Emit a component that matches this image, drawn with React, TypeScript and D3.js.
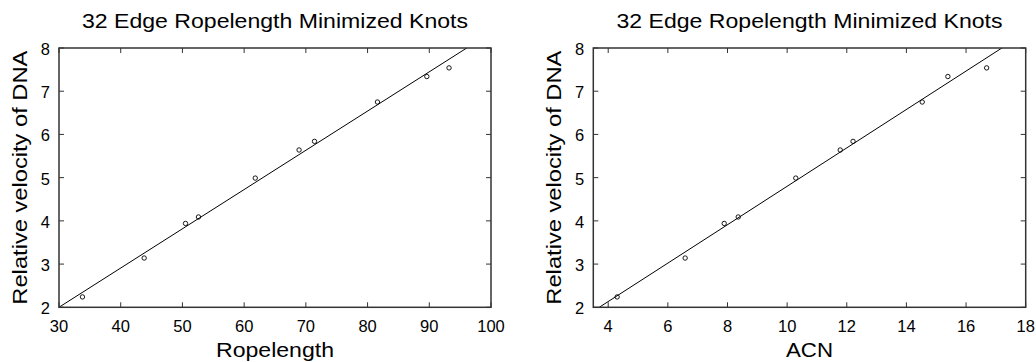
import React from "react";
import * as d3 from "d3";

// values
const ropelength = [33.8, 43.8, 50.5, 52.6, 61.8, 68.9, 71.4, 81.6, 89.6, 93.2];
const acn = [4.3, 6.58, 7.89, 8.36, 10.29, 11.78, 12.21, 14.53, 15.39, 16.69];
const velocity = [2.24, 3.14, 3.94, 4.09, 4.99, 5.64, 5.84, 6.75, 7.34, 7.54];

const ropeTicks = [30, 40, 50, 60, 70, 80, 90, 100];
const acnTicks = [4, 6, 8, 10, 12, 14, 16, 18];
const velocityTicks = [2, 3, 4, 5, 6, 7, 8];

// fitted lines: [slope, intercept]
const ropeFit = [0.0908, -0.723];
const acnFit = [0.4444, 0.356];

const title = "32 Edge Ropelength Minimized Knots";
const yLabel = "Relative velocity of DNA";

const W = 1036,
  H = 362;
const top = 48,
  bottom = 307.3;
const font = "'Liberation Sans', Arial, Helvetica, sans-serif";

type PanelProps = {
  id: string;
  left: number;
  right: number;
  xs: number[];
  xDomain: [number, number];
  xTicks: number[];
  fit: number[];
  xLabel: string;
  xLabelLen: number;
};

const Panel = ({ id, left, right, xs, xDomain, xTicks, fit, xLabel, xLabelLen }: PanelProps) => {
  const x = d3.scaleLinear().domain(xDomain).range([left, right]);
  const y = d3.scaleLinear().domain([2, 8]).range([bottom, top]);

  const fitLine = d3
    .line<number>()
    .x((d) => x(d))
    .y((d) => y(fit[0] * d + fit[1]));

  const pts = xs.map((v, i) => ({ x: v, y: velocity[i] }));
  const cx = (left + right) / 2;
  const tick = 5;
  const frame = "#333";

  return (
    <g>
      <defs>
        <clipPath id={"clip-" + id}>
          <rect x={left} y={top} width={right - left} height={bottom - top} />
        </clipPath>
      </defs>

      <text x={cx} y={28} textAnchor="middle" fontSize={19.5} textLength={386}
        lengthAdjust="spacingAndGlyphs" fill="#000">{title}</text>

      {/* fit line */}
      <path d={fitLine(xDomain) || ""} fill="none" stroke="#000" strokeWidth={1}
        clipPath={`url(#clip-${id})`} />

      {/* points */}
      {pts.map((p, i) => (
        <circle key={i} cx={x(p.x)} cy={y(p.y)} r={2.2} fill="none" stroke="#000" strokeWidth={0.9} />
      ))}

      {/* frame */}
      <rect x={left} y={top} width={right - left} height={bottom - top} fill="none"
        stroke={frame} strokeWidth={1.5} />

      {/* x ticks */}
      {xTicks.map((t) => (
        <g key={"x" + t}>
          <line x1={x(t)} x2={x(t)} y1={bottom} y2={bottom - tick} stroke={frame} />
          <line x1={x(t)} x2={x(t)} y1={top} y2={top + tick} stroke={frame} />
          <text x={x(t)} y={332} textAnchor="middle" fontSize={16.5} fill="#000">{t}</text>
        </g>
      ))}

      {/* y ticks */}
      {velocityTicks.map((t) => (
        <g key={"y" + t}>
          <line x1={left} x2={left + tick} y1={y(t)} y2={y(t)} stroke={frame} />
          <line x1={right} x2={right - tick} y1={y(t)} y2={y(t)} stroke={frame} />
          <text x={left - 9} y={y(t) + 7} textAnchor="end" fontSize={16.5} fill="#000">{t}</text>
        </g>
      ))}

      <text x={cx} y={356.5} textAnchor="middle" fontSize={21} textLength={xLabelLen}
        lengthAdjust="spacingAndGlyphs" fill="#000">{xLabel}</text>

      <text transform={`translate(${left - 32},${(top + bottom) / 2}) rotate(-90)`}
        textAnchor="middle" fontSize={21} textLength={254} lengthAdjust="spacingAndGlyphs"
        fill="#000">{yLabel}</text>
    </g>
  );
};

export default function App() {
  return (
    <svg width={W} height={H} style={{ position: "absolute", left: 0, top: 0, background: "#fff" }}
      fontFamily={font}>
      <rect width={W} height={H} fill="#fff" />
      <Panel id="rope" left={59} right={491} xs={ropelength} xDomain={[30, 100]} xTicks={ropeTicks}
        fit={ropeFit} xLabel="Ropelength" xLabelLen={118} />
      <Panel id="acn" left={593.3} right={1025.7} xs={acn} xDomain={[3.5, 18]} xTicks={acnTicks}
        fit={acnFit} xLabel="ACN" xLabelLen={47} />
    </svg>
  );
}
